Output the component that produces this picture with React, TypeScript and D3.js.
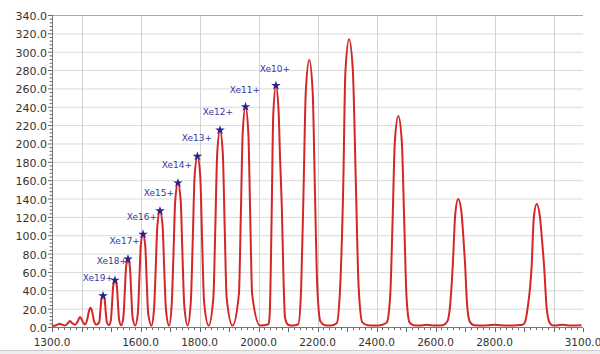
import * as d3 from "d3";

// spectrum trace: [m/q, intensity]
const spectrum: [number, number][] = [
    [1300, 1.0], [1312, 1.6], [1320, 2.8], [1327, 3.5], [1334, 2.6], [1344, 1.6], [1353, 3.8], [1361, 6.5],
    [1369, 4.0], [1378, 2.4], [1387, 6.0], [1395, 11], [1403, 6.5], [1412, 2.8], [1420, 9], [1425, 17],
    [1430.5, 21], [1436, 17], [1442, 7], [1450, 2.5],
    [1460, 5], [1464, 18], [1467.5, 30], [1473, 34], [1478.5, 30], [1482, 17], [1486, 5], [1493, 2],
    [1499.6, 7.5], [1503.6, 25.5], [1507.6, 45], [1513.6, 51], [1519.6, 45], [1523.6, 25.5], [1527.6, 7.5], [1535, 1.8],
    [1542, 11], [1546.6, 37], [1551, 65], [1557.6, 74], [1564.2, 65], [1568.6, 37], [1573, 11], [1582, 1.5],
    [1591, 15], [1596, 50.5], [1601, 89], [1608.5, 101], [1616, 89], [1621, 50.5], [1626, 15], [1637, 1.5],
    [1645.7, 19], [1651.5, 63], [1657.3, 111], [1666, 126.5], [1674.7, 111], [1680.5, 63], [1686.3, 19], [1697, 1.5],
    [1705.6, 23.5], [1711.7, 78.5], [1717.8, 138], [1727, 157], [1736.2, 138], [1742.3, 78.5], [1748.4, 23.5], [1760, 1.5],
    [1770.6, 28], [1777, 93], [1783.4, 164], [1793, 186], [1802.6, 164], [1809, 93], [1815.4, 28], [1831, 1.5],
    [1847, 32], [1853.5, 107], [1860, 189], [1869.5, 214.5], [1879, 189], [1885.5, 107], [1892, 32], [1912, 1.5],
    [1933.6, 36], [1940, 120], [1946.4, 211], [1956, 240], [1965.6, 211], [1972, 120], [1978.4, 36], [2005, 1.5],
    [2034, 3], [2038, 14], [2041.5, 60], [2045, 131], [2050, 231], [2059, 263], [2068, 236], [2073, 185],
    [2079, 131], [2085, 50], [2090, 10], [2100, 2.5], [2115, 1.5],
    [2135, 3], [2144.7, 43.5], [2152.5, 145.5], [2160.3, 256], [2172, 291], [2183.7, 256], [2191.5, 145.5],
    [2199.3, 43.5], [2210, 6], [2225, 2], [2245, 1.5],
    [2265, 4], [2277.3, 47], [2287.5, 157], [2294.3, 276], [2307, 313.5], [2319.7, 280], [2330, 157], [2339, 47],
    [2352, 5], [2370, 2], [2395, 1.5], [2420, 2.5],
    [2435, 5], [2446.5, 34.5], [2454.5, 115], [2462.2, 202], [2474, 230], [2485.8, 202], [2494, 115], [2501.5, 34.5],
    [2512, 5], [2525, 2], [2545, 1.5], [2570, 2.5], [2600, 1.5], [2625, 2],
    [2640, 6], [2650, 25], [2659, 70], [2667, 123], [2677, 139.5], [2688, 125], [2694, 100], [2700, 70],
    [2707, 25], [2716, 6], [2730, 2], [2760, 1.5], [2800, 2.5], [2840, 1.5], [2880, 2], [2895, 2.5],
    [2903, 5], [2912, 20], [2926, 67], [2933, 118], [2943, 134], [2954, 120], [2961, 95], [2968, 67],
    [2977, 20], [2988, 4], [3000, 1.5], [3030, 2.5], [3060, 1.5], [3095, 2],
];

// detected peaks (stars)
const starMz = [1473, 1513.6, 1557.6, 1608.5, 1666, 1727, 1793, 1869.5, 1956, 2059];
const starIntensity = [34, 51, 74, 101, 126.5, 157, 186, 214.5, 240, 263];

// charge-state labels, anchored at their right end
const ionLabels = ["Xe19+", "Xe18+", "Xe17+", "Xe16+", "Xe15+", "Xe14+", "Xe13+", "Xe12+", "Xe11+", "Xe10+"];
const labelMz = [1506.8, 1554, 1598, 1656, 1713.6, 1774.6, 1842.4, 1913.6, 2005, 2106.8];
const labelIntensity = [53.4, 71.9, 94, 120.2, 146, 176.5, 205.9, 234.5, 259, 282];

const xTickLabels = [1300, 1600, 1800, 2000, 2200, 2400, 2600, 2800, 3100];
const xGridValues = [1400, 1600, 1800, 2000, 2200, 2400, 2600, 2800, 3000];
const yTickValues = [0, 20, 40, 60, 80, 100, 120, 140, 160, 180, 200, 220, 240, 260, 280, 300, 320, 340];

function App() {
    const width = 600;
    const height = 354;
    const margin = {top: 15, right: 17, bottom: 27, left: 52};
    const x0 = margin.left;
    const x1 = width - margin.right;
    const y0 = height - margin.bottom;
    const y1 = margin.top;

    const xScale = d3.scaleLinear().domain([1300, 3100]).range([x0, x1]);
    const yScale = d3.scaleLinear().domain([0, 340]).range([y0, y1]);

    const line = d3.line<[number, number]>()
        .x(d => xScale(d[0]))
        .y(d => yScale(d[1]))
        .curve(d3.curveMonotoneX);

    const star = d3.symbol().type(d3.symbolStar).size(28)();
    const fmt = d3.format(".1f");

    const xMinor = d3.range(1300, 3101, 20);
    const yMinor = d3.range(0, 341, 4);

    return (
        <svg width={width} height={height} style={{position: "fixed", left: 0, top: 0, background: "#fff"}}
             fontFamily="DejaVu Sans, Verdana, sans-serif">
            {/* grid */}
            {yTickValues.filter(v => v > 0 && v < 340).map(v =>
                <line key={"gy" + v} x1={x0} x2={x1} y1={yScale(v) + 0.5} y2={yScale(v) + 0.5} stroke="#dadada"/>
            )}
            {xGridValues.map(v =>
                <line key={"gx" + v} x1={Math.round(xScale(v)) + 0.5} x2={Math.round(xScale(v)) + 0.5} y1={y1} y2={y0}
                      stroke="#d2d2d2"/>
            )}
            <line x1={x0} x2={x1} y1={y1 + 0.5} y2={y1 + 0.5} stroke="#a8a8a8"/>

            {/* axes */}
            <line x1={x0 + 0.5} x2={x0 + 0.5} y1={y1} y2={y0 + 1} stroke="#777"/>
            <line x1={x0} x2={x1} y1={y0 + 0.5} y2={y0 + 0.5} stroke="#777"/>
            {yMinor.map(v =>
                <line key={"ym" + v} x1={v % 20 === 0 ? x0 - 4 : x0 - 2.5} x2={x0} y1={yScale(v) + 0.5}
                      y2={yScale(v) + 0.5} stroke="#666"/>
            )}
            {yTickValues.map(v =>
                <text key={"yl" + v} x={x0 - 5} y={yScale(v) + 5} textAnchor="end" fontSize={11}
                      fill="#333">{fmt(v)}</text>
            )}
            {xMinor.map(v =>
                <line key={"xm" + v} x1={Math.round(xScale(v)) + 0.5} x2={Math.round(xScale(v)) + 0.5} y1={y0 + 1}
                      y2={v % 100 === 0 ? y0 + 5 : y0 + 3} stroke="#666"/>
            )}
            {xTickLabels.map(v =>
                <text key={"xl" + v} x={xScale(v)} y={y0 + 19} textAnchor="middle" fontSize={10.5}
                      fill="#333">{fmt(v)}</text>
            )}

            {/* spectrum */}
            <path d={line(spectrum) ?? ""} fill="none" stroke="#d42626" strokeWidth={2} strokeLinejoin="round"/>

            {/* peak markers */}
            {starMz.map((m, i) =>
                <path key={"s" + i} d={star ?? ""} transform={`translate(${xScale(m)},${yScale(starIntensity[i])})`}
                      fill="#2c1f8e"/>
            )}
            {ionLabels.map((t, i) =>
                <text key={"t" + i} x={xScale(labelMz[i])} y={yScale(labelIntensity[i]) + 3.3} textAnchor="end"
                      fontSize={9} fill="#3a3a9e">{t}</text>
            )}

            {/* window frame below the chart */}
            <rect x={0} y={350} width={width} height={4} fill="#eeeeee"/>
            <line x1={0} x2={width} y1={350.5} y2={350.5} stroke="#cccccc"/>
        </svg>
    );
}

export default App;
